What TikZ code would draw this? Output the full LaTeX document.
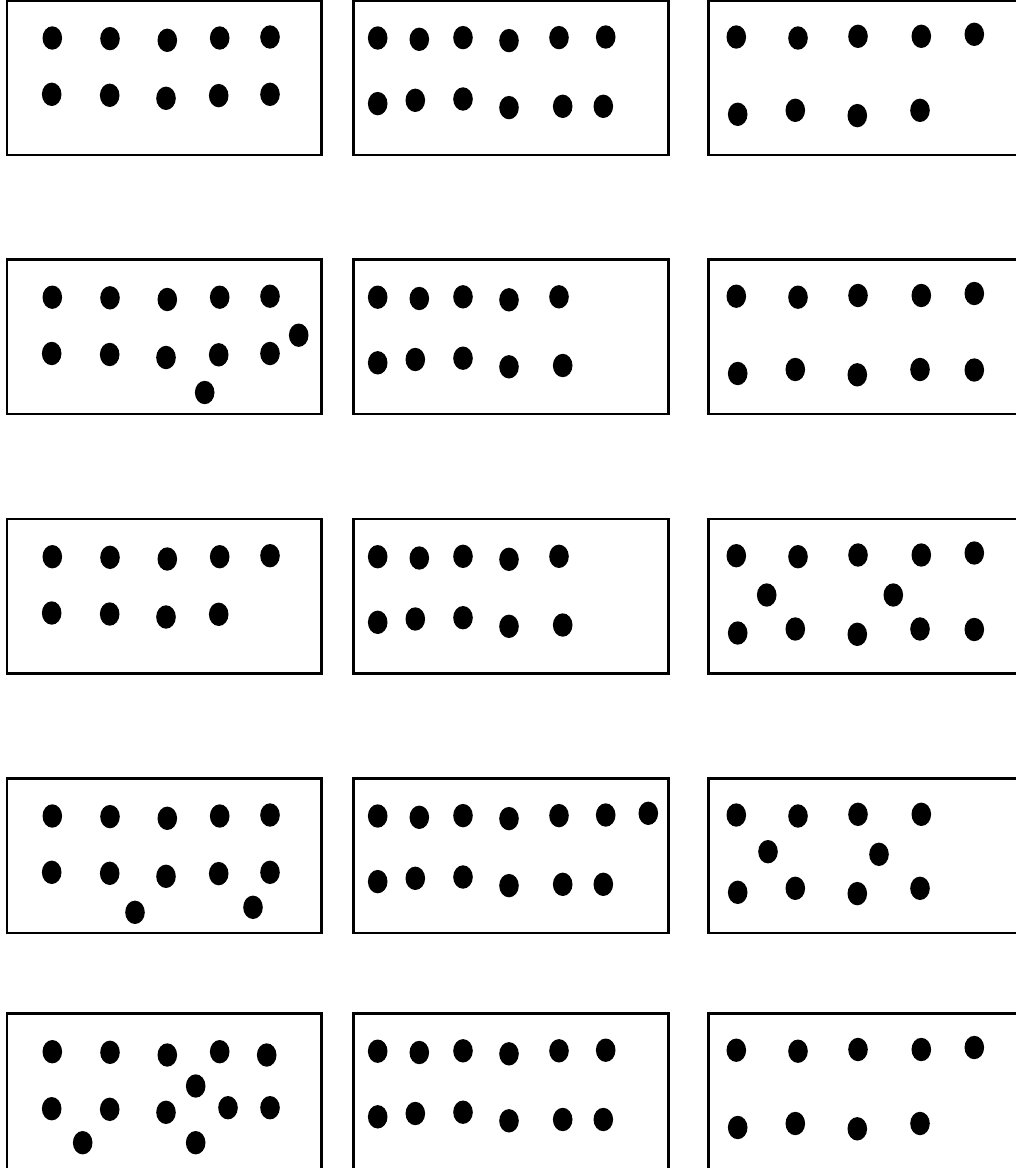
\documentclass[tikz,border=0pt]{standalone}
\begin{document}
\begin{tikzpicture}[x=1pt,y=-1pt,
  box/.style={draw=black,line width=2.4pt},
  dotfill/.style={fill=black}]
\useasboundingbox (0,0) rectangle (1016,1168);
\fill[white] (0,0) rectangle (1016,1168);
\clip (0,0) rectangle (1016,1168);
\newcommand\mydot[1]{\fill[dotfill] #1 ellipse [x radius=9.8, y radius=11.7];}
\newcommand\rowAone{\foreach \p in {(52.3,37.7),(110,38.3),(167.3,40),(219.7,37.7),(270,36.7)}{\mydot{\p}}}
\newcommand\rowBone{\foreach \p in {(51.7,94),(109.7,95),(166,98),(218.7,95.3),(270,94)}{\mydot{\p}}}
\newcommand\rowBonefour{\foreach \p in {(51.7,94),(109.7,95),(166,98),(218.7,95.3)}{\mydot{\p}}}
\newcommand\rowAtwofive{\foreach \p in {(377.7,37.7),(419.3,39),(463,37.3),(509,40.3),(559,37.3)}{\mydot{\p}}}
\newcommand\rowBtwofive{\foreach \p in {(377.7,103.3),(415.3,100),(463,98.7),(509,107.3),(562.7,106)}{\mydot{\p}}}
\newcommand\rowAtwo{\rowAtwofive\mydot{(605.7,36.7)}}
\newcommand\rowBtwo{\rowBtwofive\mydot{(603.3,106)}}
\newcommand\rowAthreefour{\foreach \p in {(736.3,36.7),(798,37.7),(858,36),(921.3,36)}{\mydot{\p}}}
\newcommand\rowAthree{\rowAthreefour\mydot{(974.3,34)}}
\newcommand\rowBthreefour{\foreach \p in {(737.7,114),(795.3,110),(857.3,115.3),(920,110)}{\mydot{\p}}}
\newcommand\rowBthree{\rowBthreefour\mydot{(974.3,110.5)}}
\newcommand\boxes{%
  \draw[box] (7,0) rectangle (321.5,154.5);
  \draw[box] (353.3,0) rectangle (668.3,154.5);
  \draw[box] (708.3,0) rectangle (1040,154.5);}
% Row 1
\begin{scope}[shift={(0,0.3)}]
  \boxes
  \rowAone \rowBone
  \rowAtwo \rowBtwo
  \rowAthree \rowBthreefour
\end{scope}
% Row 2
\begin{scope}[shift={(0,259.5)}]
  \boxes
  \rowAone \rowBone
  \mydot{(298.7,75.7)} \mydot{(204.7,133)}
  \rowAtwofive \rowBtwofive
  \rowAthree \rowBthree
\end{scope}
% Row 3
\begin{scope}[shift={(0,519)}]
  \boxes
  \rowAone \rowBonefour
  \rowAtwofive \rowBtwofive
  \rowAthree \rowBthree
  \mydot{(766.7,76)} \mydot{(893.3,76)}
\end{scope}
% Row 4
\begin{scope}[shift={(0,778.3)}]
  \boxes
  \rowAone \rowBone
  \mydot{(135,134)} \mydot{(253,129)}
  \rowAtwo \rowBtwo \mydot{(648.3,35)}
  \rowAthreefour \rowBthreefour
  \mydot{(768,73.4)} \mydot{(879,76)}
\end{scope}
% Row 5
\begin{scope}[shift={(0,1013.5)}]
  \draw[box] (7,0) rectangle (321.5,170);
  \draw[box] (353.3,0) rectangle (668.3,170);
  \draw[box] (708.3,0) rectangle (1040,170);
  \foreach \p in {(52.3,38.2),(110,38.8),(167.3,41.5),(219.7,38.2),(266.7,41.5),
                  (51.7,95.2),(109.7,95.8),(166,98.8),(228,94.2),(270,94.2),
                  (195.7,72.5),(82.7,129.2),(195.7,129.2)}{\mydot{\p}}
  \rowAtwo \rowBtwo
  \rowAthree \rowBthreefour
\end{scope}
\end{tikzpicture}
\end{document}
